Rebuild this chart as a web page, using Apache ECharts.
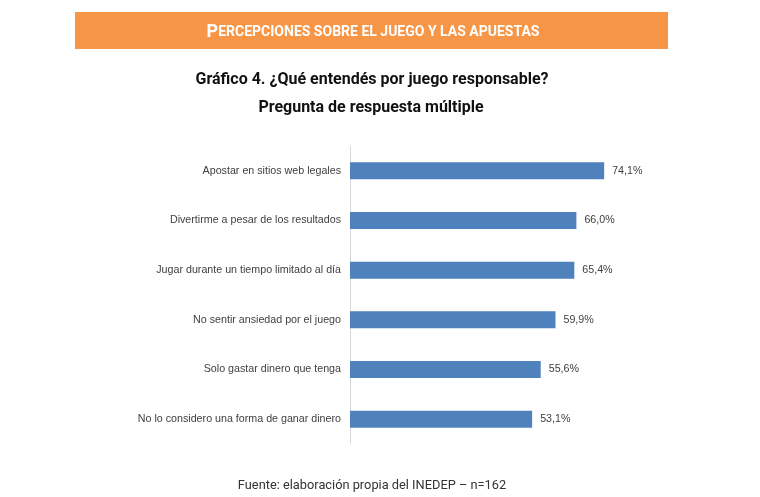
<!DOCTYPE html>
<html>
<head>
<meta charset="utf-8">
<script src="https://cdn.jsdelivr.net/npm/echarts@6/dist/echarts.min.js"></script>
<style>
  html, body { margin: 0; padding: 0; background: #fff; }
  #main { width: 760px; height: 497px; }
</style>
</head>
<body>
<div id="main"></div>
<script>
// datos del gráfico
var categorias = [
    'Apostar en sitios web legales',
    'Divertirme a pesar de los resultados',
    'Jugar durante un tiempo limitado al día',
    'No sentir ansiedad por el juego',
    'Solo gastar dinero que tenga',
    'No lo considero una forma de ganar dinero'
];
var porcentajes = [74.1, 66.0, 65.4, 59.9, 55.6, 53.1];

var myChart = echarts.init(document.getElementById('main'));

var option = {
    backgroundColor: '#fff',
    animation: false,
    title: [
        {
            text: 'Gráfico 4. ¿Qué entendés por juego responsable?',
            left: 367, top: 67, textAlign: 'center',
            textStyle: { fontFamily: 'Roboto', fontSize: 16, fontWeight: 'bold', color: '#111' }
        },
        {
            text: 'Pregunta de respuesta múltiple',
            left: 366, top: 95, textAlign: 'center',
            textStyle: { fontFamily: 'Roboto', fontSize: 16, fontWeight: 'bold', color: '#111' }
        },
        {
            text: 'Fuente: elaboración propia del INEDEP – n=162',
            left: 367, top: 474, textAlign: 'center',
            textStyle: { fontFamily: 'Roboto', fontSize: 12.8, fontWeight: 'normal', color: '#333' }
        }
    ],
    graphic: [
        {
            type: 'rect',
            shape: { x: 75, y: 12, width: 593, height: 37 },
            style: { fill: '#F79646' },
            silent: true
        },
        {
            type: 'text',
            x: 373, y: 32,
            style: {
                text: '{b|P}{s|ERCEPCIONES SOBRE EL JUEGO Y LAS APUESTAS}',
                align: 'center',
                verticalAlign: 'middle',
                rich: {
                    b: { fontFamily: 'Roboto', fontSize: 18, fontWeight: 'bold', fill: '#fff' },
                    s: { fontFamily: 'Roboto', fontSize: 14, fontWeight: 'bold', fill: '#fff' }
                }
            },
            silent: true
        }
    ],
    grid: {
        left: 350,
        width: 343,
        top: 146,
        height: 298
    },
    xAxis: {
        type: 'value',
        min: 0,
        max: 100,
        show: false
    },
    yAxis: {
        type: 'category',
        inverse: true,
        data: categorias,
        axisLine: { show: true, lineStyle: { color: '#d9d9d9', width: 1 } },
        axisTick: { show: false },
        axisLabel: {
            margin: 9,
            fontFamily: 'Liberation Sans',
            fontSize: 10.7,
            color: '#404040'
        }
    },
    series: [
        {
            type: 'bar',
            data: porcentajes,
            barWidth: 17,
            itemStyle: { color: '#4F81BD' },
            label: {
                show: true,
                position: 'right',
                distance: 8,
                fontFamily: 'Liberation Sans',
                fontSize: 10.7,
                color: '#404040',
                formatter: function (p) {
                    return p.value.toFixed(1).replace('.', ',') + '%';
                }
            }
        }
    ]
};

myChart.setOption(option);
</script>
</body>
</html>
